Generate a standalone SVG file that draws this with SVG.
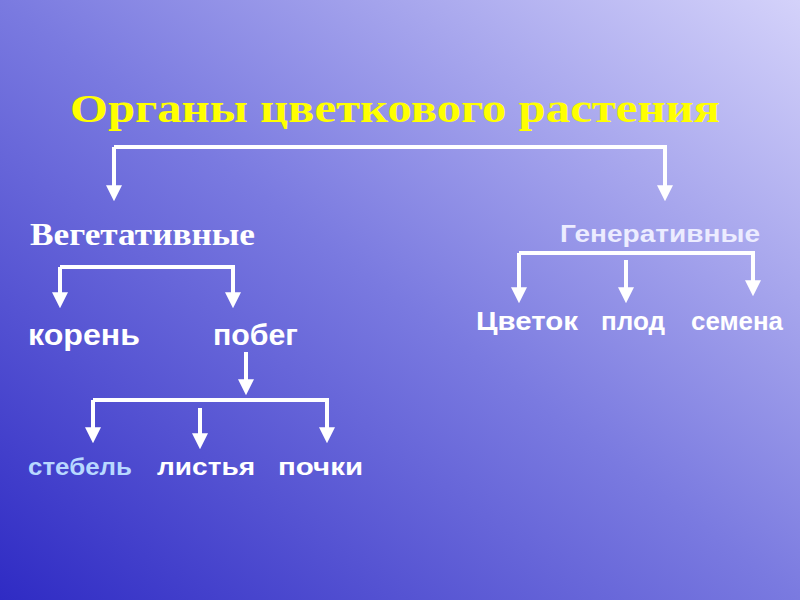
<svg xmlns="http://www.w3.org/2000/svg" width="800" height="600" viewBox="0 0 800 600">
<defs>
<linearGradient id="bg" x1="0" y1="1" x2="1" y2="0">
<stop offset="0" stop-color="#2f2bc4"/>
<stop offset="0.5" stop-color="#7a7ae0"/>
<stop offset="1" stop-color="#d4d2fa"/>
</linearGradient>
<marker id="ah" viewBox="0 0 10 10" refX="3" refY="5" markerWidth="4" markerHeight="4" orient="auto" markerUnits="strokeWidth">
<path d="M0,0 L10,5 L0,10 z" fill="#fff"/>
</marker>
<style>
.c{fill:none;stroke:#fff;stroke-width:4}
.a{marker-end:url(#ah)}
.s{font-family:"Liberation Sans",Arial,sans-serif;font-weight:bold}
.r{font-family:"Liberation Serif","Times New Roman",serif;font-weight:bold}
</style>
</defs>
<rect width="800" height="600" fill="url(#bg)"/>
<g id="connectors">
<path class="c a" d="M114,147 H665 V190"/>
<path class="c a" d="M114,147 V190"/>
<path class="c a" d="M60,267 H233 V297"/>
<path class="c a" d="M60,267 V297"/>
<path class="c a" d="M246,352 V384"/>
<path class="c a" d="M93,400 H327 V432"/>
<path class="c a" d="M93,400 V432"/>
<path class="c a" d="M200,408 V438"/>
<path class="c a" d="M519,253 H753 V285"/>
<path class="c a" d="M519,253 V292"/>
<path class="c a" d="M626,260 V292"/>
</g>
<g id="title"><text class="r" x="70" y="122" font-size="41" fill="#ffff00" textLength="650" lengthAdjust="spacingAndGlyphs">Органы цветкового растения</text></g>
<g id="veg"><text class="r" x="30" y="245" font-size="31" fill="#fff" textLength="225" lengthAdjust="spacingAndGlyphs">Вегетативные</text></g>
<g id="koren"><text class="s" x="28" y="345" font-size="29" fill="#fff" textLength="112" lengthAdjust="spacingAndGlyphs">корень</text></g>
<g id="pobeg"><text class="s" x="213" y="345" font-size="29" fill="#fff" textLength="85" lengthAdjust="spacingAndGlyphs">побег</text></g>
<g id="stebel"><text class="s" x="28" y="475" font-size="24" fill="#b8d8ff" textLength="104" lengthAdjust="spacingAndGlyphs">стебель</text></g>
<g id="listya"><text class="s" x="157" y="475" font-size="24" fill="#fff" textLength="98" lengthAdjust="spacingAndGlyphs">листья</text></g>
<g id="pochki"><text class="s" x="278" y="475" font-size="24" fill="#fff" textLength="85" lengthAdjust="spacingAndGlyphs">почки</text></g>
<g id="gen"><text class="s" x="560" y="242" font-size="23" fill="#ececff" textLength="200" lengthAdjust="spacingAndGlyphs">Генеративные</text></g>
<g id="cvetok"><text class="s" x="476" y="330" font-size="25" fill="#fff" textLength="102" lengthAdjust="spacingAndGlyphs">Цветок</text></g>
<g id="plod"><text class="s" x="601" y="330" font-size="25" fill="#fff" textLength="64" lengthAdjust="spacingAndGlyphs">плод</text></g>
<g id="semena"><text class="s" x="691" y="330" font-size="25" fill="#fff" textLength="92" lengthAdjust="spacingAndGlyphs">семена</text></g>
</svg>
